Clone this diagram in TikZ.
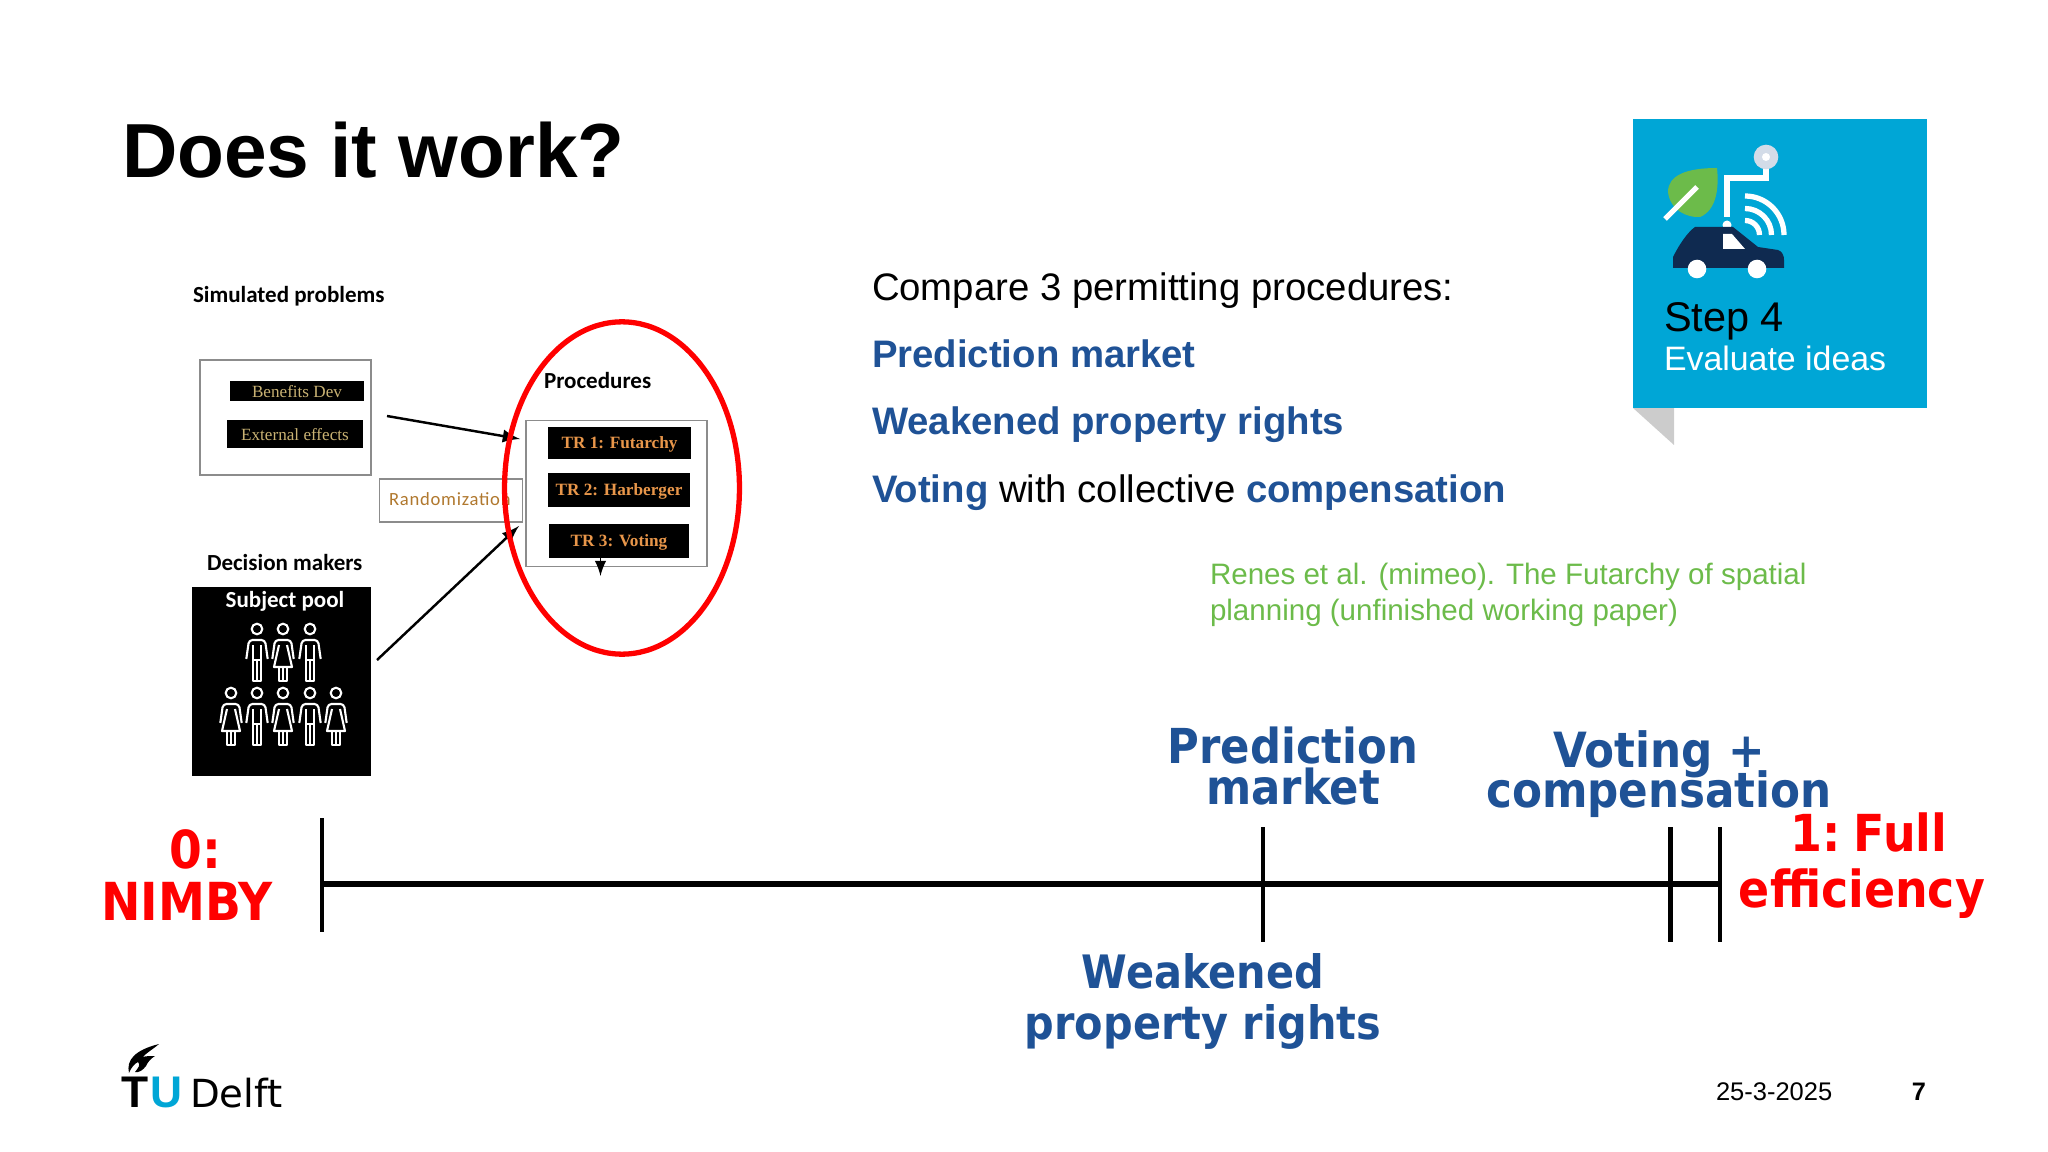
\documentclass[tikz,border=0pt]{standalone}
\usepackage{fontspec}
\usetikzlibrary{shapes.geometric}
\setmainfont{Liberation Sans}
\newfontfamily\labelfont[FakeStretch=0.9]{DejaVu Sans}
\newfontfamily\logofont{DejaVu Sans}
\newfontfamily\calibfont{Carlito}
\newfontfamily\timesfont{Liberation Serif}
\newcommand{\tightlines}{\setlength{\lineskiplimit}{-20pt}}
\definecolor{tublue}{HTML}{1F5296}
\definecolor{tucyan}{HTML}{00A6D6}
\definecolor{tunavy}{HTML}{0F2A50}
\definecolor{tugreen}{HTML}{6CBB4A}
\definecolor{trorange}{HTML}{E8964A}
\definecolor{trgold}{HTML}{C9B273}
\definecolor{randbrown}{HTML}{B0782E}
\definecolor{sensorgrey}{HTML}{D3DCE8}
\begin{document}
\begin{tikzpicture}[x=0.01cm,y=-0.01cm,
  every node/.style={inner sep=0pt,outer sep=0pt},
  body/.style={anchor=base west,font=\fontsize{10.9}{13}\selectfont},%texte de droite
  bluebody/.style={body,text=tublue,font=\fontsize{10.9}{13}\selectfont\bfseries},
  blacktag/.style={fill=black,minimum height=10pt,align=center,text depth=0pt},
  framebox/.style={draw=black!45,line width=0.4pt},
  caption/.style={right,font=\calibfont\fontsize{6.55}{8}\selectfont\bfseries},
  tr/.style={text=trorange,font=\timesfont\fontsize{4.9}{6}\selectfont\bfseries},
  gold/.style={text=trgold,font=\timesfont\fontsize{4.87}{6}\selectfont},
  scale label/.style={align=center,text=tublue},
  red label/.style={align=center,text=red},
  tight label/.style 2 args={font=\labelfont\fontsize{#1}{#2}\selectfont\bfseries\tightlines},
  tick/.style={line width=1.3pt,black},
  figure line/.style={white,line width=0.6pt,line join=round},
  man/.pic={
    \draw[figure line] (0,0) circle (5.3);
    \draw[figure line,rounded corners=1pt] (-10.7,30) -- (-8,11) -- (8,11) -- (10.7,30);
    \draw[figure line] (-4.2,16) -- (-4.2,52) -- (0,52) -- (0,31) (4.2,16) -- (4.2,52) -- (0,52) (-4.2,31) -- (4.2,31);
  },
  woman/.pic={
    \draw[figure line] (0,0) circle (5.3);
    \draw[figure line,rounded corners=1pt] (-10.7,30) -- (-8,11) -- (8,11) -- (10.7,30);
    \draw[figure line] (-4,16) -- (-9,38) -- (9,38) -- (4,16);
    \draw[figure line] (-4,38) -- (-4,52) -- (0,52) -- (0,38) (4,38) -- (4,52) -- (0,52);
  }]
\useasboundingbox (0,0) rectangle (2048,1152);

\node (title) at (122,150) [right,font=\fontsize{21.8}{26}\selectfont\bfseries] {Does it work?};

% partie droite
\node (compare) at (872,301) [body] {Compare 3 permitting procedures:};
\node (market) at (872,368) [bluebody] {Prediction market};
\node (rights) at (872,435) [bluebody] {Weakened property rights};
\node (voting) at (872,502) [body] {\textcolor{tublue}{\bfseries Voting} with collective \textcolor{tublue}{\bfseries compensation}};
\node (renes) at (1210,595) [right,align=left,text=tugreen,font=\fontsize{8.4}{10.4}\selectfont] {Renes et al. (mimeo). The Futarchy of spatial\\planning (unfinished working paper)};

% carre bleu
\fill[black!20] (1633,408) -- (1674,408) -- (1674,445) -- cycle;
\fill[tucyan] (1633,119) rectangle (1927,408);
\fill[tugreen] (1717,168) .. controls (1687,168) and (1668,175) .. (1668,192) .. controls (1670,210) and (1687,218) .. (1700,217) .. controls (1717,210) and (1719,187) .. (1717,168) -- cycle;
\draw[white,line width=1.5pt] (1665,219) -- (1697,187);
\draw[white,line width=1.5pt] (1727,217) -- (1727,178) -- (1766,178) -- (1766,162);
\fill[sensorgrey] (1766,157) circle (12.3);
\fill[white] (1766,157) circle (4);
\draw[white,line width=1.5pt] (1745,235) ++(0,-39) arc (-90:0:39);
\draw[white,line width=1.5pt] (1745,235) ++(0,-26.5) arc (-90:0:26.5);
\draw[white,line width=1.5pt] (1745,235) ++(0,-14.5) arc (-90:0:14.5);
\fill[white] (1727,225) circle (4.5);
\fill[tunavy] (1673,268) -- (1673,257) .. controls (1680,243) and (1688,232) .. (1695,227) -- (1733,227) -- (1758,247) -- (1778,250) .. controls (1785,253) and (1784,258) .. (1784,268) -- cycle;
\fill[white] (1723,234) -- (1732,234) -- (1745,249) -- (1723,249) -- cycle;
\fill[white] (1697,269) circle (9.3) (1757,269) circle (9.3);
\node (stepnum) at (1664,332) [anchor=base west,font=\fontsize{11.8}{14}\selectfont] {Step 4};
\node (stepname) at (1664,371) [anchor=base west,text=white,font=\fontsize{9.63}{12}\selectfont] {Evaluate ideas};

% schema a gauche
\node (simulated) at (193,296) [caption] {Simulated problems};
\node (problems) at (285.5,417.5) [framebox,minimum width=48.6pt,minimum height=32.7pt] {};
\node (benefits) at (297,391) [blacktag,minimum width=38pt,minimum height=5.7pt,gold] {Benefits Dev};
\node (external) at (295,434) [blacktag,minimum width=38.5pt,minimum height=8pt,gold] {External effects};
\node (random) at (451,500.5) [framebox,minimum width=40.5pt,minimum height=12.2pt] {};
\node (randtext) at (389,499) [right,text=randbrown,font=\calibfont\fontsize{5.3}{7}\selectfont\addfontfeatures{LetterSpace=4}] {Randomization};
\node (procedures) at (544,381) [caption] {Procedures};
\node (procbox) at (616.5,493.5) [framebox,minimum width=51.5pt,minimum height=41.5pt] {};
\node (tr1) at (619.5,443) [blacktag,minimum width=40.7pt,minimum height=9.1pt,tr] {TR 1: Futarchy};
\node (tr2) at (619,490) [blacktag,minimum width=40.4pt,minimum height=9.5pt,tr] {TR 2: Harberger};
\node (tr3) at (619,541) [blacktag,minimum width=39.7pt,minimum height=9.5pt,tr] {TR 3: Voting};
\coordinate (trout) at (600.5,576);
\draw[-latex,line width=0.5pt] (tr3.south -| trout) -- (trout);
\node (decision) at (207,563) [caption] {Decision makers};
\node (pool) at (281.25,681.5) [fill=black,minimum width=50.8pt,minimum height=54pt] {};
\node (subject) at (285,601) [text=white,font=\calibfont\fontsize{6.55}{8}\selectfont\bfseries] {Subject pool};
\foreach \px/\py in {257/629,310/629,257/693,310/693} {
  \pic at (\px,\py) {man};
}
\foreach \px/\py in {283/629,231/693,283/693,336/693} {
  \pic at (\px,\py) {woman};
}
\coordinate (probout) at (387,416);
\coordinate (probin) at (520,439);
\coordinate (poolout) at (377,660);
\coordinate (poolin) at (519,526);
\draw[-latex,line width=0.7pt] (probout) -- (probin);
\draw[-latex,line width=0.7pt] (poolout) -- (poolin);
\node (circled) at (622,488) [draw=red,line width=1.5pt,ellipse,minimum width=66.8pt,minimum height=94.5pt] {};

% echelle
\coordinate (nimby) at (322,884);
\coordinate (full) at (1720,884);
\draw[line width=1.5pt] (nimby) -- (full);
\draw[tick] (322,818) -- (nimby) -- (322,932);
\draw[tick] (1263,827) -- (1263,942);
\draw[tick] (1670.5,827) -- (1670.5,942);
\draw[tick] (full |- 0,827) -- (full) -- (full |- 0,942);
\node (zero) at (187,875) [red label,tight label={14.9}{14.7}] {\hspace*{5pt}0:\\NIMBY};
\node (pmlabel) at (1293,766) [scale label,tight label={13.7}{11.5}] {Prediction\\market};
\node (vclabel) at (1659,774) [scale label,tight label={13.8}{11.3}] {Voting +\\compensation};
\node (one) at (1862,866) [red label,tight label={14.5}{15.9}] {\hspace*{4pt}1:\hspace{0.25em}Full\\efficiency};
\node (wplabel) at (1203,1001) [scale label,tight label={13.1}{14.5}] {Weakened\\property rights};

% pied de page
\fill[black] (129,1073) .. controls (126,1060) and (135,1050) .. (159,1044) .. controls (152,1050) and (146,1053) .. (143,1057) .. controls (146,1056) and (150,1056) .. (155,1056) .. controls (150,1059) and (148,1062) .. (146,1066) .. controls (143,1070) and (139,1073) .. (135,1072) .. controls (138,1068) and (141,1065) .. (138,1062) .. controls (134,1064) and (131,1068) .. (129,1073) -- cycle;
\node (logot) at (121,1107) [anchor=base west,font=\fontsize{12.6}{14}\selectfont\bfseries] {T};
\node (logou) at (150,1107) [anchor=base west,text=tucyan,font=\fontsize{12.6}{14}\selectfont\bfseries] {U};
\node (logodelft) at (190,1107) [anchor=base west,font=\logofont\fontsize{11}{12}\selectfont] {Delft};
\node (date) at (1716,1092) [right,font=\fontsize{7.25}{9}\selectfont] {25-3-2025};
\node (page) at (1926,1092) [left,font=\fontsize{7.2}{9}\selectfont\bfseries] {7};
\end{tikzpicture}
\end{document}
